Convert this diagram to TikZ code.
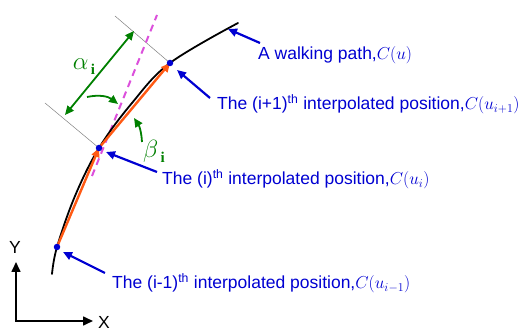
\documentclass[tikz,border=0pt]{standalone}
\usepackage{fontspec}
\setmainfont{Liberation Sans}
\newfontfamily\serifgr{Liberation Serif}
\usetikzlibrary{arrows.meta}
\definecolor{lblue}{RGB}{0,0,210}
\definecolor{lgreen}{RGB}{0,128,0}
\definecolor{lpink}{RGB}{220,80,220}
\definecolor{lorange}{RGB}{255,90,20}
\begin{document}
\begin{tikzpicture}[x=1pt,y=-1pt,
  lbl/.style={anchor=base west, text=lblue, font=\fontsize{17.5}{20}\selectfont, inner sep=0pt},
  barr/.style={draw=lblue, line width=2.2pt, -{Triangle[length=9pt,width=8pt]}},
  garr/.style={draw=lgreen, line width=1.8pt, -{Triangle[length=9pt,width=8pt]}},
  oarr/.style={draw=lorange, line width=2.4pt, -{Triangle[length=9pt,width=8pt]}},
  dot/.style={circle, fill=lblue, inner sep=0pt, minimum size=6.5pt},
  axarr/.style={draw=black, line width=1.6pt, -{Triangle[length=10pt,width=9pt]}},
  thin/.style={draw=gray, line width=0.5pt},
  glbl/.style={text=lgreen, font=\fontsize{24}{26}\selectfont, inner sep=0pt}
]
\useasboundingbox (0,0) rectangle (531,331);
\fill[white] (0,0) rectangle (531,331);

% coordinates
\coordinate (P0) at (57,247);
\coordinate (P1) at (99,148);
\coordinate (P2) at (170,63);

% thin guide lines
\coordinate (g1) at (45,103);
\coordinate (g2) at (115,16);
\draw[thin] (g1) -- (P1);
\draw[thin] (g2) -- (P2);

% dashed extension
\coordinate (d0) at (92,176);
\coordinate (d1) at (157,15);
\draw[lpink, line width=2pt, dash pattern=on 7pt off 5pt] (d0) -- (d1);

% walking path
\draw[black, line width=1.8pt, line cap=round] plot[smooth, tension=0.6] coordinates
  {(52,274) (57,247) (75,196) (99,148) (132,103) (170,63) (238,23)};

% orange chords
\draw[oarr] (P0) -- (P1);
\draw[oarr] (P1) -- (P2);

% dots
\node[dot] (n0) at (P0) {};
\node[dot] (n1) at (P1) {};
\node[dot] (n2) at (P2) {};

% alpha double arrow
\coordinate (a1) at (134,31);
\coordinate (a0) at (65,115);
\draw[draw=lgreen, line width=1.8pt, {Triangle[length=9pt,width=8pt]}-{Triangle[length=9pt,width=8pt]}] (a0) -- (a1);
\node[glbl] (alpha) at (84,67) {$\alpha$\raisebox{-5pt}{\fontsize{15}{16}\selectfont\serifgr\bfseries\,i}};
\node[glbl] (beta) at (154,151) {$\beta$\raisebox{-5pt}{\fontsize{15}{16}\selectfont\serifgr\bfseries\,i}};

% curved green arrows
\coordinate (c0) at (87,97);
\coordinate (c1) at (118,104);
\draw[garr] (c0) to[bend left=25] (c1);
\coordinate (c2) at (142,142);
\coordinate (c3) at (134,118);
\draw[garr] (c2) to[bend right=15] (c3);

% labels
\node[lbl] (t3) at (258,60) {A walking path,$C(u)$};
\node[lbl] (t2) at (217,110) {The (i+1)\textsuperscript{th} interpolated position,$C(u_{i+1})$};
\node[lbl] (t1) at (162,185) {The (i)\textsuperscript{th} interpolated position,$C(u_{i})$};
\node[lbl] (t0) at (112,289) {The (i-1)\textsuperscript{th} interpolated position,$C(u_{i-1})$};

% blue arrows
\coordinate (b3s) at (260,43);
\coordinate (b3e) at (228,29);
\draw[barr] (b3s) -- (b3e);
\coordinate (b2s) at (210,98);
\coordinate (b2e) at (177,70);
\draw[barr] (b2s) -- (b2e);
\coordinate (b1s) at (157,172);
\coordinate (b1e) at (106,152);
\draw[barr] (b1s) -- (b1e);
\coordinate (b0s) at (105,273);
\coordinate (b0e) at (63,252);
\draw[barr] (b0s) -- (b0e);

% axes
\coordinate (O) at (16,321);
\coordinate (Yt) at (16,262);
\coordinate (Xt) at (93,321);
\draw[axarr, line cap=rect] (O) -- (Yt);
\draw[axarr, line cap=rect] (O) -- (Xt);
\node[font=\fontsize{17.5}{20}\selectfont, inner sep=0pt] (Y) at (15,247) {Y};
\node[font=\fontsize{17.5}{20}\selectfont, inner sep=0pt] (X) at (104,322) {X};
\end{tikzpicture}
\end{document}
